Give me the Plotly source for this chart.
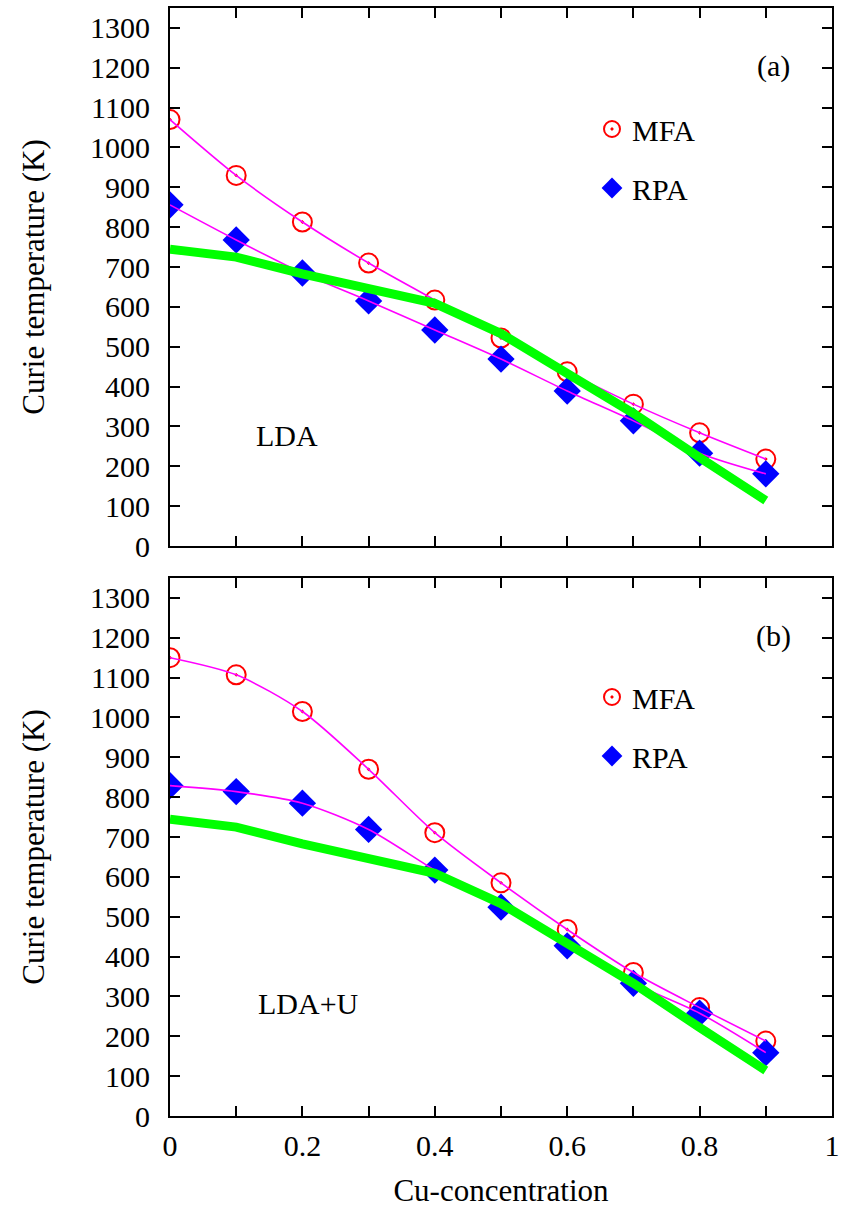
import plotly.graph_objects as go

# ---- data ----
cu = [0.0, 0.1, 0.2, 0.3, 0.4, 0.5, 0.6, 0.7, 0.8, 0.9]

lda_mfa = [1070, 930, 813, 710, 617, 522, 437, 356, 284, 218]
lda_rpa = [856, 768, 685, 615, 542, 469, 389, 314, 233, 181]

ldau_mfa = [1150, 1107, 1015, 870, 711, 585, 468, 360, 272, 188]
ldau_rpa = [829, 814, 785, 719, 617, 524, 427, 333, 258, 159]

exp_tc = [745, 725, 683, 647, 609, 533, 432, 333, 222, 114]

x_tickvals = [0, 0.1, 0.2, 0.3, 0.4, 0.5, 0.6, 0.7, 0.8, 0.9, 1.0]
x_ticktext = ["0", "", "0.2", "", "0.4", "", "0.6", "", "0.8", "", "1"]
y_tickvals = list(range(0, 1400, 100))

FONT = "Liberation Serif"
W, H = 849, 1211
ML, MR, MT, MB = 170, 17, 8, 95
PH = H - MT - MB

def py2paper(py):
    return (H - MB - py) / PH

fig = go.Figure()

panels = [
    dict(x="x2", y="y2", mfa=lda_mfa, rpa=lda_rpa, legend="legend"),
    dict(x="x", y="y", mfa=ldau_mfa, rpa=ldau_rpa, legend="legend2"),
]

for i, p in enumerate(panels):
    fig.add_trace(go.Scatter(
        x=cu, y=p["mfa"], xaxis=p["x"], yaxis=p["y"], mode="markers", name="MFA",
        marker=dict(symbol="circle-open-dot", size=19, color="#ff0000", line=dict(width=2, color="#ff0000")),
        legend=p["legend"], legendgroup=f"mfa{i}", showlegend=True))
    fig.add_trace(go.Scatter(
        x=cu, y=p["rpa"], xaxis=p["x"], yaxis=p["y"], mode="markers", name="RPA",
        marker=dict(symbol="diamond", size=21, color="#0000ff", line=dict(width=0)),
        legend=p["legend"], legendgroup=f"rpa{i}", showlegend=True))
    for series in (p["mfa"], p["rpa"]):
        fig.add_trace(go.Scatter(
            x=cu, y=series, xaxis=p["x"], yaxis=p["y"], mode="lines",
            line=dict(color="#ff00ff", width=1.6, shape="spline", smoothing=0.8),
            showlegend=False, hoverinfo="skip"))
    fig.add_trace(go.Scatter(
        x=cu, y=exp_tc, xaxis=p["x"], yaxis=p["y"], mode="lines",
        line=dict(color="#00ff00", width=9),
        showlegend=False, hoverinfo="skip"))

axis_common = dict(
    showline=True, linecolor="black", linewidth=2, mirror="ticks",
    ticks="inside", ticklen=10, tickwidth=2, tickcolor="black",
    showgrid=False, zeroline=False, automargin=False,
    tickfont=dict(family=FONT, size=30, color="black"),
)

top_bottom = py2paper(546)
bot_top = py2paper(578)

fig.update_layout(
    width=W, height=H,
    margin=dict(l=ML, r=MR, t=MT, b=MB, autoexpand=False),
    paper_bgcolor="white", plot_bgcolor="white",
    font=dict(family=FONT, color="black"),
    xaxis=dict(domain=[0, 1], range=[0, 1], anchor="y",
               tickvals=x_tickvals, ticktext=x_ticktext, ticklabelstandoff=2,
               title=dict(text="Cu-concentration", font=dict(family=FONT, size=31), standoff=18),
               **axis_common),
    yaxis=dict(domain=[0, bot_top], range=[0, 1350], anchor="x",
               tickvals=y_tickvals, ticklabelstandoff=12,
               title=dict(text="Curie temperature (K)", font=dict(family=FONT, size=31), standoff=36),
               **axis_common),
    xaxis2=dict(domain=[0, 1], range=[0, 1], anchor="y2",
                tickvals=x_tickvals, showticklabels=False,
                **axis_common),
    yaxis2=dict(domain=[top_bottom, 1], range=[0, 1350], anchor="x2",
                tickvals=y_tickvals, ticklabelstandoff=12,
                title=dict(text="Curie temperature (K)", font=dict(family=FONT, size=31), standoff=36),
                **axis_common),
    legend=dict(x=(592 - ML) / (W - ML - MR), y=py2paper(103), xanchor="left", yanchor="top",
                font=dict(family=FONT, size=30), bgcolor="rgba(0,0,0,0)",
                traceorder="grouped", tracegroupgap=17),
    legend2=dict(x=(592 - ML) / (W - ML - MR), y=py2paper(671), xanchor="left", yanchor="top",
                 font=dict(family=FONT, size=30), bgcolor="rgba(0,0,0,0)",
                 traceorder="grouped", tracegroupgap=17),
    annotations=[
        dict(text="(a)", x=0.912, y=1205, xref="x2", yref="y2", showarrow=False,
             font=dict(family=FONT, size=30)),
        dict(text="(b)", x=0.912, y=1205, xref="x", yref="y", showarrow=False,
             font=dict(family=FONT, size=30)),
        dict(text="LDA", x=0.177, y=278, xref="x2", yref="y2", showarrow=False,
             font=dict(family=FONT, size=30)),
        dict(text="LDA+U", x=0.209, y=283, xref="x", yref="y", showarrow=False,
             font=dict(family=FONT, size=30)),
    ],
)

fig.write_html("out.html")
